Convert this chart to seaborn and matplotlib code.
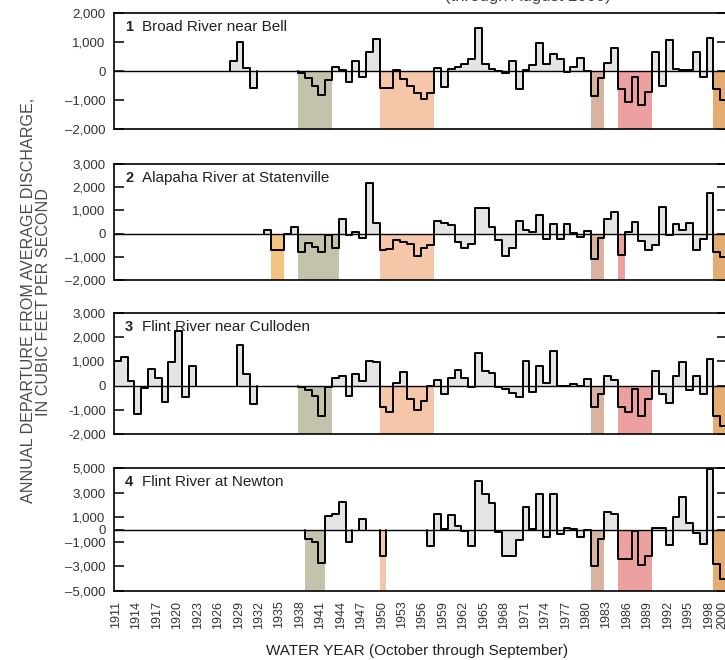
import matplotlib
matplotlib.use("Agg")
import matplotlib.pyplot as plt
import seaborn as sns
import pandas as pd

# ---- data: annual departure from average discharge (cubic feet per second) ----
station_names = [
    "Broad River near Bell",
    "Alapaha River at Statenville",
    "Flint River near Culloden",
    "Flint River at Newton",
]

broad_start = 1928
broad_values = [
    350, 1000, 100, -570,
    None, None, None, None, None, None,
    -70, -255, -530, -820, -310, 150, 35, -370, 350, -220,
    650, 1110, -570, -570, 40, -270, -520, -750, -960, -750,
    100, -560, 80, 140, 255, 430, 1500, 255, 80, -10,
    -60, 360, -615, 45, 220, 975, 245, 600, 430, -35,
    140, 450, -10, -850, -230, 280, 810, -615, -1080, -210,
    -1170, -730, 660, -500, 1070, 80, 45, 45, 660, -210,
    1125, -620, -1000,
]

alapaha_start = 1933
alapaha_values = [
    140, -720, -690, -30, 290, -790, -400, -580, -790, -60,
    -640, 650, -70, 70, -200, 2160, 460, -720, -650, -260,
    -360, -430, -980, -600, -500, 530, 460, 360, -360, -620,
    -460, 1110, 1110, 290, -290, -980, -600, 530, 140, 70,
    820, -230, 430, -230, 430, 30, -140, 115, -1080, -170,
    650, 940, -920, 70, 500, -330, -690, -500, 1150, -70,
    430, 140, 460, -690, -245, 1770, -790, -1000,
]

culloden_start = 1911
culloden_values = [
    1030, 1170, 200, -1170, -110, 690, 300, -690, 990, 2250,
    -455, 830,
    None, None, None, None, None, None,
    1680, 480, -760,
    None, None, None, None, None, None,
    -60, -200, -450, -1250, -60, 320, 390, -410, 480, 200,
    1035, 990, -900, -1100, 110, 550, -550, -1000, -620, -30,
    235, -345, 300, 660, 320, -40, 1340, 620, 520, -40,
    -140, -300, -480, 1035, -280, 790, 100, 1450, -30, -30,
    70, -30, 280, -900, -345, 390, 250, -900, -1080, -140,
    -1240, -550, 590, -345, -720, 390, 970, -170, 390, -345,
    1100, -1240, -1650,
]

newton_start = 1939
newton_values = [
    -790, -1000, -2720, 1090, 1300, 2260, -1000, None, 820, None,
    None, -2180, None, None, None, None, None, None, -1330, 1250,
    40, 1170, 300, -100, -1330, 3940, 2860, 2180, -190, -2150,
    -2150, -870, 1800, 80, 2860, -600, 2860, -380, 140, 30,
    -600, -30, -3000, -790, 1410, 1300, -2420, -2420, -140, -2860,
    -2180, 140, 140, -1280, 980, 2670, 490, -270, -1140, 4900,
    -2830, -4000,
]

# drought periods shaded below the zero line: (first year, year after last, colour)
broad_droughts = [(1938, 1943, "#c4c2aa"), (1950, 1958, "#f5c6a8"), (1981, 1983, "#d8b4a0"),
                  (1985, 1990, "#eca0a0"), (1999, 2001, "#e4ac70")]
alapaha_droughts = [(1934, 1936, "#f2c480"), (1938, 1944, "#c4c2aa"), (1950, 1958, "#f5c6a8"),
                    (1981, 1983, "#d8b4a0"), (1985, 1986, "#eca0a0"), (1999, 2001, "#e4ac70")]
culloden_droughts = [(1938, 1943, "#c4c2aa"), (1950, 1958, "#f5c6a8"), (1981, 1983, "#d8b4a0"),
                     (1985, 1990, "#eca0a0"), (1999, 2001, "#e4ac70")]
newton_droughts = [(1939, 1942, "#c4c2aa"), (1950, 1951, "#f5c6a8"), (1981, 1983, "#d8b4a0"),
                   (1985, 1990, "#eca0a0"), (1999, 2001, "#e4ac70")]

# y axes
broad_ylim = (-2000, 2000)
broad_yticks = [-2000, -1000, 0, 1000, 2000]
broad_ylabels = ["\u20132,000", "\u20131,000", "0", "1,000", "2,000"]
alapaha_ylim = (-2000, 3000)
alapaha_yticks = [-2000, -1000, 0, 1000, 2000, 3000]
alapaha_ylabels = ["\u20132,000", "\u20131,000", "0", "1,000", "2,000", "3,000"]
culloden_ylim = (-2000, 3000)
culloden_yticks = [-2000, -1000, 0, 1000, 2000, 3000]
culloden_ylabels = ["-2,000", "-1,000", "0", "1,000", "2,000", "3,000"]
newton_ylim = (-5000, 5000)
newton_yticks = [-5000, -3000, -1000, 0, 1000, 3000, 5000]
newton_ylabels = ["\u20135,000", "\u20133,000", "\u20131,000", "0", "1,000", "3,000", "5,000"]

year_ticks = list(range(1911, 1999, 3)) + [2000]
year_range = (1911, 2001)

# ---- styling ----
sns.set_theme(style="white")
plt.rcParams["font.family"] = ["Liberation Sans", "DejaVu Sans"]

GREY_FILL = "#e4e4e4"
TEXT = "#333333"


def step_frame(start, values):
    """Vertices of a stepped outline, one 'run' per block of consecutive years."""
    rows = []
    run = 0
    cur = []
    for i, v in enumerate(values + [None]):
        if v is None:
            if cur:
                first = cur[0][0]
                rows.append((first, 0.0, run))
                for yr, val in cur:
                    rows.append((yr, val, run))
                    rows.append((yr + 1, val, run))
                rows.append((cur[-1][0] + 1, 0.0, run))
                run += 1
                cur = []
        else:
            cur.append((start + i, v))
    return pd.DataFrame(rows, columns=["year", "departure", "run"])


panels = [
    (station_names[0], broad_start, broad_values, broad_droughts, broad_ylim, broad_yticks, broad_ylabels),
    (station_names[1], alapaha_start, alapaha_values, alapaha_droughts, alapaha_ylim, alapaha_yticks, alapaha_ylabels),
    (station_names[2], culloden_start, culloden_values, culloden_droughts, culloden_ylim, culloden_yticks, culloden_ylabels),
    (station_names[3], newton_start, newton_values, newton_droughts, newton_ylim, newton_yticks, newton_ylabels),
]

W, H = 725, 660
fig = plt.figure(figsize=(W / 100, H / 100), dpi=100)

# panel frames in pixels: (top, bottom)
frames = [(13, 129), (164, 280), (313, 434), (468, 591)]
left_px, right_px = 114, 727

for idx, ((name, start, values, droughts, ylim, yt, ylab), (top, bot)) in enumerate(zip(panels, frames)):
    ax = fig.add_axes([left_px / W, 1 - bot / H, (right_px - left_px) / W, (bot - top) / H])
    df = step_frame(start, values)

    # grey area between the step outline and zero
    for _, g in df.groupby("run"):
        ax.fill_between(g["year"], g["departure"], 0, color=GREY_FILL, lw=0, zorder=1)

    # drought bands from zero to the bottom of the panel
    for s, e, c in droughts:
        ax.fill_between([s, e], ylim[0], 0, color=c, lw=0, zorder=2)

    ax.axhline(0, color="black", lw=1.0, zorder=3)
    sns.lineplot(data=df, x="year", y="departure", units="run", estimator=None, sort=False,
                 color="black", lw=1.4, ax=ax, legend=False, zorder=4)

    ax.set_xlim(*year_range)
    ax.set_ylim(*ylim)
    ax.set_yticks(yt, ylab)
    ax.set_xlabel("")
    ax.set_ylabel("")
    ax.tick_params(axis="y", direction="in", left=True, right=True, length=7, width=1.1,
                   color="black", labelsize=9.5, labelcolor=TEXT, pad=6)
    for sp in ax.spines.values():
        sp.set_color("black")
        sp.set_linewidth(1.2)

    if idx < 3:
        ax.set_xticks([])
    else:
        ax.set_xticks([y + 0.3 for y in year_ticks], [str(y) for y in year_ticks])
        ax.tick_params(axis="x", length=0, labelsize=9, labelcolor=TEXT, pad=7,
                       labelrotation=90)

    ax.annotate(str(idx + 1), xy=(0, 1), xycoords="axes fraction", xytext=(11, -14),
                textcoords="offset pixels", ha="left", va="center", fontsize=10.5,
                fontweight="bold", color="#222222")
    ax.annotate(name, xy=(0, 1), xycoords="axes fraction", xytext=(28, -14),
                textcoords="offset pixels", ha="left", va="center", fontsize=11,
                color="#222222")

# shared axis titles
fig.text(29 / W, 1 - 300 / H, "ANNUAL DEPARTURE FROM AVERAGE DISCHARGE,", rotation=90,
         ha="center", va="center", fontsize=11.6, color="#4a4a4a")
fig.text(44 / W, 1 - 302 / H, "IN CUBIC FEET PER SECOND", rotation=90,
         ha="center", va="center", fontsize=11.6, color="#4a4a4a")
fig.text(417 / W, 1 - 651 / H, "WATER YEAR (October through September)",
         ha="center", va="center", fontsize=11, color="#222222")
fig.text(528 / W, 1 - 0.5 / H, "(through August 2000)", ha="center", va="baseline",
         fontsize=12, color="#444444")

fig.savefig("out.png", dpi=100)
